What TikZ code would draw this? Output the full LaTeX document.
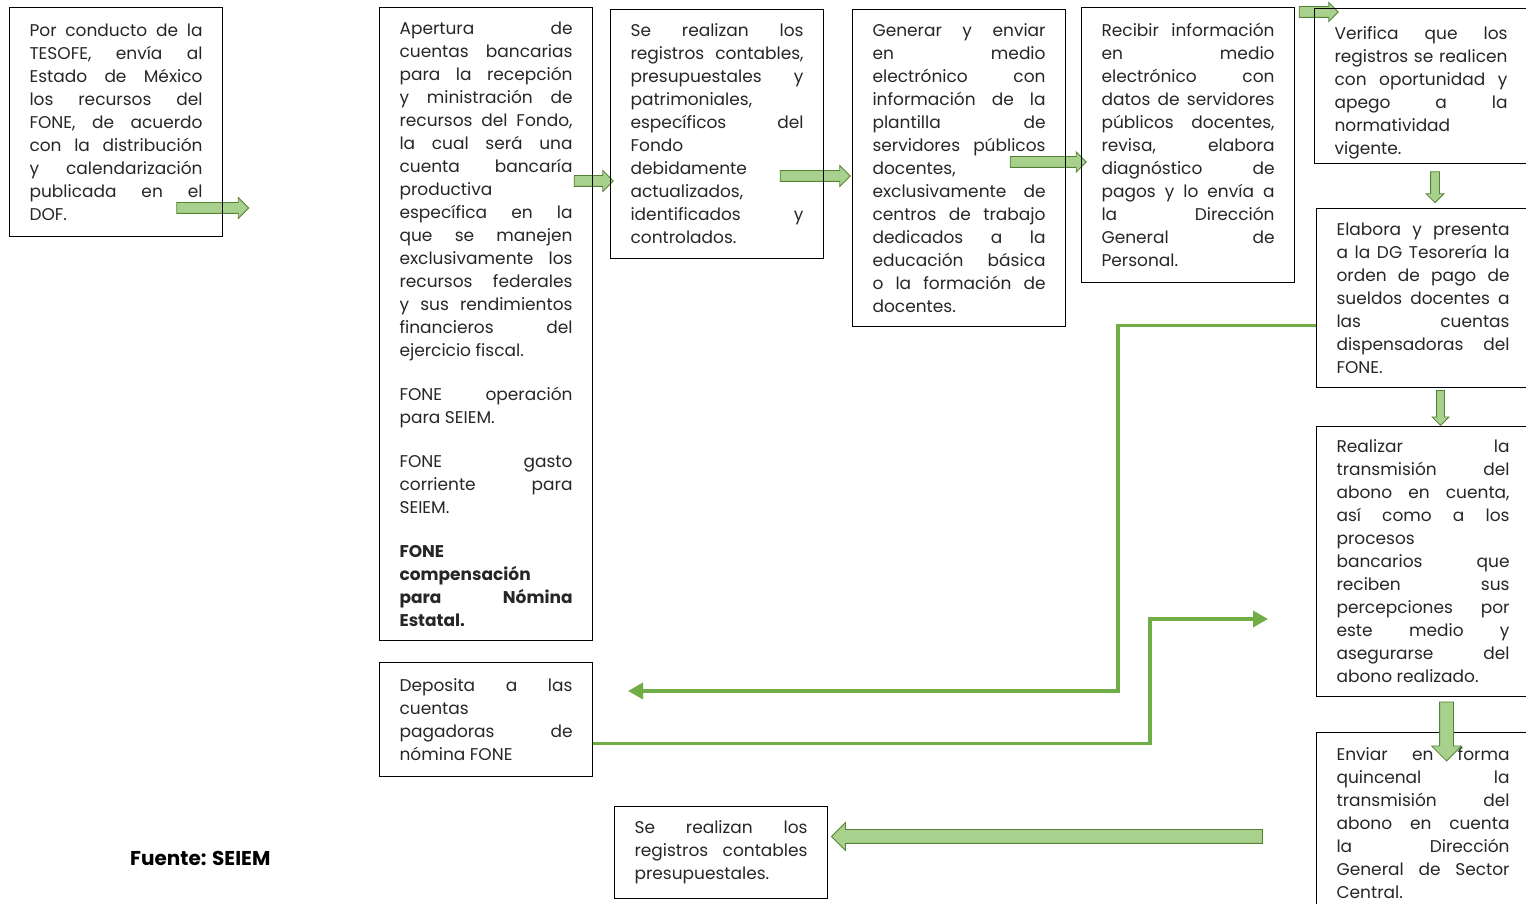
\documentclass[tikz,border=0pt]{standalone}
\usepackage{fontspec}
\setmainfont{Poppins}
\usetikzlibrary{shapes.arrows,arrows.meta}

\begin{document}
\begin{tikzpicture}[x=1pt,y=1pt,
  box/.style={draw=drawColor,line width=1.1pt,anchor=north west,text width=173pt,inner xsep=20pt,inner ysep=0pt,align=justify,text=textColor,font=\fontsize{17}{23}\selectfont},
  blockarrow/.style={single arrow,draw=arrowDraw,fill=arrowFill,line width=0.8pt,inner sep=5pt,single arrow head extend=5pt},
  flowline/.style={draw=lineColor,line width=3.5pt,-{Triangle[length=15pt,width=16pt]}}]
\definecolor{drawColor}{RGB}{0,0,0}
\definecolor{textColor}{RGB}{38,38,38}
\definecolor{arrowFill}{RGB}{169,209,142}
\definecolor{arrowDraw}{RGB}{84,130,53}
\definecolor{lineColor}{RGB}{112,173,71}
\path[use as bounding box] (0,0) rectangle (1526,904);
\begin{scope}
\path[clip] (  0.00,  0.00) rectangle (1526.00,904.00);

\node[blockarrow,minimum height=72pt] (arrTesofe) at ( 210.00,696.00) {};
\node[blockarrow,minimum height=39pt] (arrApertura) at ( 591.00,723.00) {};
\node[blockarrow,minimum height=70pt] (arrRegistros) at ( 812.50,728.00) {};
\node[blockarrow,minimum height=76pt,single arrow head extend=4.5pt] (arrGenerar) at (1045.50,742.00) {};
\node[blockarrow,minimum height=39pt,single arrow head extend=4pt] (arrRecibir) at (1316.00,892.00) {};
\node[blockarrow,minimum height=31pt,inner sep=4pt,single arrow head extend=4.5pt,shape border rotate=270] (arrVerifica) at (1435.00,719.00) {};
\node[blockarrow,minimum height=35pt,inner sep=3.5pt,single arrow head extend=4.5pt,shape border rotate=270] (arrElabora) at (1440.50,498.00) {};
\node[blockarrow,minimum height=431pt,inner sep=6.5pt,single arrow head extend=7pt,shape border rotate=180] (arrEnviar) at (1050.50, 67.50) {};

\node[box,minimum height=229pt] (tesofe) at (   9.00,897.00) {Por conducto de la\linebreak TESOFE, envía al\linebreak Estado de México\linebreak los recursos del\linebreak FONE, de acuerdo\linebreak con la distribución\linebreak y calendarización\linebreak publicada en el\linebreak DOF.};

\node[box,minimum height=633pt] (apertura) at ( 379.00,897.00) {Apertura de\linebreak cuentas bancarias\linebreak para la recepción\linebreak y ministración de\linebreak recursos del Fondo,\linebreak la cual será una\linebreak cuenta bancaría\linebreak productiva\linebreak específica en la\linebreak que se manejen\linebreak exclusivamente los\linebreak recursos federales\linebreak y sus rendimientos\linebreak financieros del\linebreak ejercicio fiscal.\\[21pt]
FONE operación\linebreak para SEIEM.\\[21pt]
FONE gasto\linebreak corriente para\linebreak SEIEM.\\[21pt]
\textbf{FONE\linebreak compensación\linebreak para Nómina\linebreak Estatal.}};

\node[box,minimum height=249pt] (registros) at ( 610.00,895.00) {Se realizan los\linebreak registros contables,\linebreak presupuestales y\linebreak patrimoniales,\linebreak específicos del\linebreak Fondo\linebreak debidamente\linebreak actualizados,\linebreak identificados y\linebreak controlados.};

\node[box,minimum height=317pt] (generar) at ( 852.00,895.00) {Generar y enviar\linebreak en medio\linebreak electrónico con\linebreak información de la\linebreak plantilla de\linebreak servidores públicos\linebreak docentes,\linebreak exclusivamente de\linebreak centros de trabajo\linebreak dedicados a la\linebreak educación básica\linebreak o la formación de\linebreak docentes.};

\node[box,minimum height=275pt] (recibir) at (1081.00,897.00) {Recibir información\linebreak en medio\linebreak electrónico con\linebreak datos de servidores\linebreak públicos docentes,\linebreak revisa, elabora\linebreak diagnóstico de\linebreak pagos y lo envía a\linebreak la Dirección\linebreak General de\linebreak Personal.};

\node[box,minimum height=155pt] (verifica) at (1314.00,896.00) {\rule{0pt}{27pt}Verifica que los\linebreak registros se realicen\linebreak con oportunidad y\linebreak apego a la\linebreak normatividad\linebreak vigente.};

\node[box,minimum height=179pt] (elabora) at (1316.00,696.00) {Elabora y presenta\linebreak a la DG Tesorería la\linebreak orden de pago de\linebreak sueldos docentes a\linebreak las cuentas\linebreak dispensadoras del\linebreak FONE.};

\node[box,minimum height=270pt] (realizar) at (1316.00,478.00) {Realizar la\linebreak transmisión del\linebreak abono en cuenta,\linebreak así como a los\linebreak procesos\linebreak bancarios que\linebreak reciben sus\linebreak percepciones por\linebreak este medio y\linebreak asegurarse del\linebreak abono realizado.};

\node[box,minimum height=182pt] (enviar) at (1316.00,172.00) {Enviar en forma\linebreak quincenal la\linebreak transmisión del\linebreak abono en cuenta\linebreak la Dirección\linebreak General de Sector\linebreak Central.};

\node[box,minimum height=114pt] (deposita) at ( 379.00,242.00) {Deposita a las\linebreak cuentas\linebreak pagadoras de\linebreak nómina FONE};

\node[box,minimum height=92pt] (contables) at ( 614.00, 98.00) {Se realizan los\linebreak registros contables\linebreak presupuestales.};

\node[blockarrow,minimum height=59pt,inner sep=6.5pt,single arrow head extend=8pt,shape border rotate=270] (arrRealizar) at (1446.50,176.00) {};

\coordinate (toDeposita) at ( 628.00,213.00);
\coordinate (toRealizar) at (1268.00,285.00);
\draw[flowline] ([yshift=-27.5pt]elabora.west) -- ++(-198,0) |- (toDeposita);
\draw[flowline] ([yshift=-24pt]deposita.east) -- ++(557,0) |- (toRealizar);

\node[text=drawColor,anchor=west,inner sep=0pt,font=\fontsize{20}{24}\selectfont\bfseries] (fuente) at ( 130.00, 46.00) {Fuente: SEIEM};
\end{scope}
\end{tikzpicture}
\end{document}
